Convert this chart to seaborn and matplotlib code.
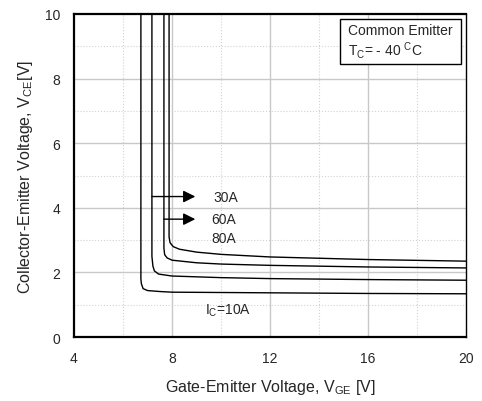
import pandas as pd
import matplotlib.pyplot as plt
import seaborn as sns
from matplotlib.patches import Rectangle

# Saturation curves, Tc = -40 C
vge_10a = [6.73, 6.73, 6.75, 6.82, 7.0, 7.5, 8.0, 12.0, 16.0, 20.0]
vce_10a = [10.0, 1.80, 1.65, 1.50, 1.44, 1.41, 1.39, 1.37, 1.35, 1.34]

vge_30a = [7.18, 7.18, 7.22, 7.28, 7.45, 8.0, 10.0, 12.0, 16.0, 20.0]
vce_30a = [10.0, 2.50, 2.20, 2.05, 1.95, 1.89, 1.84, 1.81, 1.78, 1.76]

vge_60a = [7.67, 7.67, 7.70, 7.80, 8.0, 9.0, 10.0, 12.0, 16.0, 20.0]
vce_60a = [10.0, 2.75, 2.55, 2.45, 2.38, 2.30, 2.26, 2.22, 2.17, 2.14]

vge_80a = [7.88, 7.88, 7.92, 8.05, 8.3, 9.0, 10.0, 12.0, 16.0, 20.0]
vce_80a = [10.0, 3.10, 2.92, 2.80, 2.72, 2.63, 2.56, 2.48, 2.40, 2.35]

curves = {'10A': (vge_10a, vce_10a), '30A': (vge_30a, vce_30a),
          '60A': (vge_60a, vce_60a), '80A': (vge_80a, vce_80a)}

frames = []
for ic, (vge, vce) in curves.items():
    frames.append(pd.DataFrame({'VGE': vge, 'VCE': vce, 'Ic': ic}))
df = pd.concat(frames, ignore_index=True)

sns.set_style("white")
plt.rcParams['font.family'] = ['Liberation Sans', 'DejaVu Sans']
plt.rcParams['mathtext.fontset'] = 'custom'
plt.rcParams['mathtext.rm'] = 'Liberation Sans'

fig = plt.figure(figsize=(4.82, 4.02), dpi=100)
ax = fig.add_axes([0.1535, 0.159, 0.8135, 0.8037])

# grid: solid major, dotted minor
for x in [8, 12, 16]:
    ax.axvline(x, color='#c8c8c8', linewidth=1.0, zorder=0)
for x in [6, 10, 14, 18]:
    ax.axvline(x, color='#d2d2d2', linewidth=0.8, linestyle=':', zorder=0)
for y in [2, 4, 6, 8]:
    ax.axhline(y, color='#c8c8c8', linewidth=1.0, zorder=0)
for y in [1, 3, 5, 7, 9]:
    ax.axhline(y, color='#d2d2d2', linewidth=0.8, linestyle=':', zorder=0)

sns.lineplot(data=df, x='VGE', y='VCE', units='Ic', estimator=None,
             color='black', linewidth=1.0, sort=False, ax=ax)

ax.set_xlim(4, 20)
ax.set_ylim(0, 10)
ax.set_xticks([4, 8, 12, 16, 20])
ax.set_yticks([0, 2, 4, 6, 8, 10])
ax.tick_params(labelsize=10, length=0)
ax.tick_params(axis='x', pad=10)
ax.tick_params(axis='y', pad=10)

for side in ['left', 'bottom', 'top']:
    ax.spines[side].set_linewidth(1.6)
ax.spines['right'].set_linewidth(1.0)
for s in ax.spines.values():
    s.set_color('black')

ax.set_xlabel('Gate-Emitter Voltage, V$_{\\mathregular{GE}}$ [V]', fontsize=11.5, labelpad=9)
ax.set_ylabel('Collector-Emitter Voltage, V$_{\\mathregular{CE}}$[V]', fontsize=11.5, labelpad=7)

# arrows and current labels
arrow = dict(arrowstyle='-|>', color='black', lw=1.0, mutation_scale=18, shrinkA=0, shrinkB=0)
ax.annotate('', xy=(8.95, 4.35), xytext=(7.18, 4.35), arrowprops=arrow)
ax.annotate('', xy=(8.95, 3.65), xytext=(7.67, 3.65), arrowprops=arrow)
ax.text(9.7, 4.35, '30A', fontsize=10, va='center')
ax.text(9.6, 3.65, '60A', fontsize=10, va='center')
ax.text(9.6, 3.07, '80A', fontsize=10, va='center')
ax.text(9.35, 0.85, 'I$_{\\mathregular{C}}$=10A', fontsize=10, va='center')

# condition box
ax.add_patch(Rectangle((14.86, 8.45), 4.94, 1.40, facecolor='white',
                       edgecolor='black', linewidth=1.0, zorder=3))
ax.text(15.18, 9.52, 'Common Emitter', fontsize=10, va='center', zorder=4)
ax.text(15.18, 8.9, 'T$_{\\mathregular{C}}$= - 40 $^{\\mathregular{C}}$C', fontsize=10,
        va='center', zorder=4)

plt.savefig('out.png', dpi=100)
plt.close()
